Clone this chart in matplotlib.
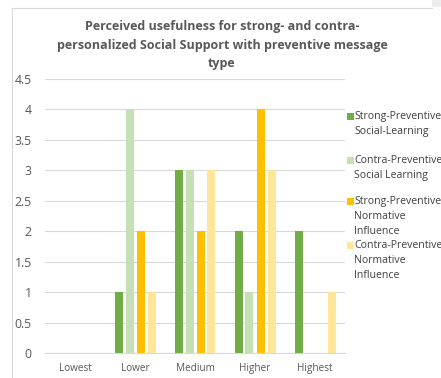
import matplotlib
matplotlib.use("Agg")
import matplotlib.pyplot as plt
import numpy as np
from matplotlib.lines import Line2D
from matplotlib.patches import Rectangle

categories = ["Lowest", "Lower", "Medium", "Higher", "Highest"]
series_names = [
    "Strong-Preventive\nSocial-Learning",
    "Contra-Preventive\nSocial Learning",
    "Strong-Preventive\nNormative\nInfluence",
    "Contra-Preventive\nNormative\nInfluence",
]
strong_social = [0, 1, 3, 2, 2]
contra_social = [0, 4, 3, 1, 0]
strong_normative = [0, 2, 2, 4, 0]
contra_normative = [0, 1, 3, 3, 1]
series_values = [strong_social, contra_social, strong_normative, contra_normative]
colors = ["#70AD47", "#C5E0B4", "#FFC000", "#FFE699"]
title = "Perceived usefulness for strong- and contra-\npersonalized Social Support with preventive message\ntype"

plt.rcParams["font.family"] = ["Open Sans", "DejaVu Sans"]
text_gray = "#595959"

fig = plt.figure(figsize=(4.41, 3.78), dpi=100)
fig.patch.set_facecolor("white")

# Chart frame (top and left edges) and corner patch
fig.add_artist(Line2D([12 / 441, 432 / 441], [1 - 7.5 / 378] * 2, color="#D9D9D9", lw=0.8))
fig.add_artist(Line2D([12 / 441] * 2, [0, 1 - 7.5 / 378], color="#D9D9D9", lw=0.8))
fig.add_artist(Rectangle((432 / 441, 1 - 7 / 378), 9 / 441, 7 / 378, color="#EEEEEE", lw=0))

ax = fig.add_axes([45 / 441, 1 - 353 / 378, 300 / 441, (353 - 79) / 378])
x = np.arange(len(categories))
width = 8 / 60
step = 11 / 60
offsets = (np.arange(4) - 1.5) * step
for vals, off, c, name in zip(series_values, offsets, colors, series_names):
    ax.bar(x + off, vals, width=width, color=c, label=name, zorder=3)

ax.set_xlim(-0.5, len(categories) - 0.5)
ax.set_ylim(0, 4.5)
ax.set_yticks(np.arange(0, 4.51, 0.5))
ax.set_yticklabels(["0", "0.5", "1", "1.5", "2", "2.5", "3", "3.5", "4", "4.5"])
ax.set_xticks(x)
ax.set_xticklabels(categories)
ax.grid(axis="y", color="#D9D9D9", lw=0.8, zorder=0)
for s in ["top", "right", "left"]:
    ax.spines[s].set_visible(False)
ax.spines["bottom"].set_color("#D9D9D9")
ax.tick_params(axis="both", length=0, colors=text_gray)
ax.tick_params(axis="y", pad=9.5, labelsize=8.8)
ax.tick_params(axis="x", pad=7, labelsize=7.2)

fig.text(222 / 441, 1 - 45 / 378, title, ha="center", va="center", fontsize=9,
         fontweight="bold", color=text_gray, linespacing=1.55)

# Legend entries: square beside the first text line
legend_y = [116, 160, 201, 245]
for y, name, c in zip(legend_y, series_names, colors):
    fig.add_artist(Rectangle((347 / 441, 1 - (y + 3.5) / 378), 6.5 / 441, 6.5 / 378, color=c, lw=0))
    fig.text(354 / 441, 1 - (y - 5) / 378, name, ha="left", va="top", fontsize=7.6,
             color="#404040", linespacing=1.5)

fig.savefig("out.png", dpi=100)
